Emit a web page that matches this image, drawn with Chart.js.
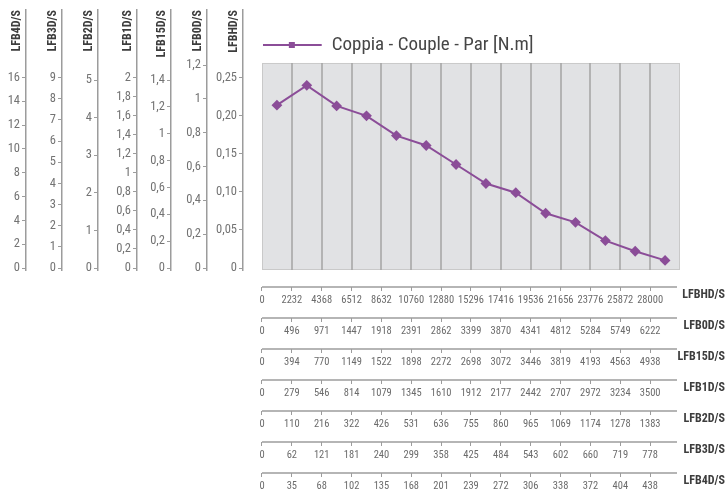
<!DOCTYPE html>
<html>
<head>
<meta charset="utf-8">
<script src="https://cdn.jsdelivr.net/npm/chart.js@4.4.1/dist/chart.umd.min.js"></script>
<style>
  body { margin: 0; background: #fff; }
  #wrap { position: relative; width: 727px; height: 497px; }
</style>
</head>
<body>
<div id="wrap"><canvas id="coppiaChart"></canvas></div>
<script>
// gear names, one y axis and one x axis each
const gearNames = ["LFBHD/S", "LFB0D/S", "LFB15D/S", "LFB1D/S", "LFB2D/S", "LFB3D/S", "LFB4D/S"];
const gearIds = ["HD", "0D", "15D", "1D", "2D", "3D", "4D"];

// rpm labels under the chart
const rpmHD = [0, 2232, 4368, 6512, 8632, 10760, 12880, 15296, 17416, 19536, 21656, 23776, 25872, 28000];
const rpm0D = [0, 496, 971, 1447, 1918, 2391, 2862, 3399, 3870, 4341, 4812, 5284, 5749, 6222];
const rpm15D = [0, 394, 770, 1149, 1522, 1898, 2272, 2698, 3072, 3446, 3819, 4193, 4563, 4938];
const rpm1D = [0, 279, 546, 814, 1079, 1345, 1610, 1912, 2177, 2442, 2707, 2972, 3234, 3500];
const rpm2D = [0, 110, 216, 322, 426, 531, 636, 755, 860, 965, 1069, 1174, 1278, 1383];
const rpm3D = [0, 62, 121, 181, 240, 299, 358, 425, 484, 543, 602, 660, 719, 778];
const rpm4D = [0, 35, 68, 102, 135, 168, 201, 239, 272, 306, 338, 372, 404, 438];

// torque tick labels on the left
const tqHD = ["0", "0,05", "0,10", "0,15", "0,20", "0,25"];
const tq0D = ["0", "0,2", "0,4", "0,6", "0,8", "1", "1,2"];
const tq15D = ["0", "0,2", "0,4", "0,6", "0,8", "1", "1,2", "1,4"];
const tq1D = ["0", "0,2", "0,4", "0,6", "0,8", "1", "1,2", "1,4", "1,6", "1,8", "2"];
const tq2D = ["0", "1", "2", "3", "4", "5"];
const tq3D = ["0", "1", "2", "3", "4", "5", "6", "7", "8", "9"];
const tq4D = ["0", "2", "4", "6", "8", "10", "12", "14", "16"];

// torque curve (N.m, LFBHD/S scale)
const coppia = [0.214, 0.240, 0.213, 0.200, 0.174, 0.161, 0.136, 0.111, 0.099, 0.072, 0.060, 0.036, 0.022, 0.010];
const serieLabel = "Coppia - Couple - Par [N.m]";

const rpmList = [rpmHD, rpm0D, rpm15D, rpm1D, rpm2D, rpm3D, rpm4D];
const tqList = [tqHD, tq0D, tq15D, tq1D, tq2D, tq3D, tq4D];

// layout
const purple = "#8b4d98";
const axisGrey = "#9c9c9c";
const cond = "'Roboto Condensed', 'Open Sans Condensed', sans-serif";
const xGap = 0.636;          // space between LFBHD axis and the grey box
const yLow = -0.0026, yHigh = 0.339, boxTop = 0.2694;
const leftWidths = [36, 36, 34, 39, 36, 36, 26];
const bottomHeights = [31, 31, 31, 31, 31, 31, 24];

let scales = {
  x: {
    type: "linear", position: "bottom", weight: 0,
    min: -xGap, max: 14,
    afterBuildTicks: function (s) {
      s.ticks = [];
      for (let i = 0; i <= 14; i++) s.ticks.push({ value: i });
    },
    afterFit: function (s) { s.height = 17; },
    border: { display: false },
    grid: { display: false },
    ticks: { display: false },
  },
};

for (let g = 0; g < gearIds.length; g++) {
  let ratio = rpmHD[13] / rpmList[g][13];
  let tl = tqList[g];
  let rl = rpmList[g];
  scales["y" + gearIds[g]] = {
    type: "linear", position: "left", weight: g,
    min: yLow * ratio, max: yHigh * ratio,
    afterBuildTicks: function (s) {
      s.ticks = tl.map(function (t) { return { value: parseFloat(t.replace(",", ".")) }; });
    },
    afterFit: function (s) { s.width = leftWidths[g]; },
    border: { color: axisGrey, width: 1.5 },
    grid: { drawOnChartArea: false, tickLength: 4, color: axisGrey, lineWidth: 1 },
    ticks: {
      padding: 2, color: "#737373", font: { family: cond, size: 12.5 },
      callback: function (v, i) { return tl[i]; },
    },
  };
  scales["x" + gearIds[g]] = {
    type: "linear", position: "bottom", weight: g + 1,
    min: -xGap, max: 14,
    afterBuildTicks: function (s) {
      s.ticks = rl.map(function (r, i) { return { value: i }; });
    },
    afterFit: function (s) { s.height = bottomHeights[g]; },
    border: { display: false },
    grid: { drawOnChartArea: false, tickLength: 4, color: axisGrey, lineWidth: 1 },
    ticks: {
      autoSkip: false, maxRotation: 0, padding: 3, color: "#6b6b6b",
      font: { family: cond, size: 10.5 },
      callback: function (v, i) { return String(rl[i]); },
    },
  };
}

// grey box with column lines, axis lines under the chart, titles and legend
const decorPlugin = {
  id: "decor",
  beforeDatasetsDraw: function (chart) {
    let ctx = chart.ctx;
    let xs = chart.scales.x, ys = chart.scales.yHD;
    let x0 = xs.getPixelForValue(0), x1 = xs.getPixelForValue(14);
    let yt = ys.getPixelForValue(boxTop), yb = chart.chartArea.bottom;
    ctx.save();
    ctx.fillStyle = "#e1e2e4";
    ctx.fillRect(x0, yt, x1 - x0, yb - yt);
    ctx.strokeStyle = "#c9c9c9";
    ctx.lineWidth = 1;
    ctx.strokeRect(x0 + 0.5, yt + 0.5, x1 - x0 - 1, yb - yt - 1);
    ctx.strokeStyle = "#a3a3a3";
    ctx.lineWidth = 1.5;
    for (let i = 1; i < 14; i++) {
      let px = Math.round(xs.getPixelForValue(i));
      ctx.beginPath();
      ctx.moveTo(px, yt);
      ctx.lineTo(px, yb);
      ctx.stroke();
    }
    ctx.restore();
  },
  afterDraw: function (chart) {
    let ctx = chart.ctx;
    let area = chart.chartArea;
    let xs = chart.scales.x;
    ctx.save();
    for (let g = 0; g < gearIds.length; g++) {
      let ys = chart.scales["y" + gearIds[g]];
      let bs = chart.scales["x" + gearIds[g]];
      // y axis title, rotated, at the top
      ctx.save();
      ctx.translate(ys.right - 9, area.top);
      ctx.rotate(-Math.PI / 2);
      ctx.font = "bold 12px " + cond;
      ctx.fillStyle = "#3d3d3d";
      ctx.textAlign = "right";
      ctx.textBaseline = "middle";
      ctx.fillText(gearNames[g], 0, 0);
      ctx.restore();
      // x axis line from 0 to the right edge
      ctx.strokeStyle = axisGrey;
      ctx.lineWidth = 1.5;
      ctx.beginPath();
      ctx.moveTo(xs.getPixelForValue(0), Math.round(bs.top));
      ctx.lineTo(area.right - 3, Math.round(bs.top));
      ctx.stroke();
      // x axis title, right aligned at the page edge
      ctx.font = "bold 12px " + cond;
      ctx.fillStyle = "#3d3d3d";
      ctx.textAlign = "right";
      ctx.textBaseline = "middle";
      ctx.fillText(gearNames[g], chart.width - 2, bs.top + 8);
    }
    // legend
    let ly = 45;
    let lx0 = xs.getPixelForValue(0) + 1, lx1 = xs.getPixelForValue(2);
    ctx.strokeStyle = purple;
    ctx.lineWidth = 2;
    ctx.beginPath();
    ctx.moveTo(lx0, ly);
    ctx.lineTo(lx1, ly);
    ctx.stroke();
    ctx.fillStyle = purple;
    ctx.fillRect(xs.getPixelForValue(1) - 3, ly - 3, 6, 6);
    ctx.font = "19px " + cond;
    ctx.fillStyle = "#464646";
    ctx.textAlign = "left";
    ctx.textBaseline = "middle";
    ctx.fillText(chart.data.datasets[0].label, lx1 + 10, ly);
    ctx.restore();
  },
};

let coppiaChart = new Chart("coppiaChart", {
  type: "line",
  data: {
    datasets: [
      {
        label: serieLabel,
        data: coppia.map(function (v, i) { return { x: i + 0.5, y: v }; }),
        xAxisID: "x",
        yAxisID: "yHD",
        borderColor: purple,
        backgroundColor: purple,
        borderWidth: 2,
        pointStyle: "rectRot",
        pointRadius: 4,
        pointBackgroundColor: purple,
        pointBorderColor: purple,
        tension: 0,
      },
    ],
  },
  options: {
    responsive: true,
    maintainAspectRatio: false,
    animation: false,
    layout: { padding: { top: 10, right: 47, bottom: 0, left: 0 } },
    plugins: { legend: { display: false }, tooltip: { enabled: false } },
    scales: scales,
  },
  plugins: [decorPlugin],
});
</script>
</body>
</html>
